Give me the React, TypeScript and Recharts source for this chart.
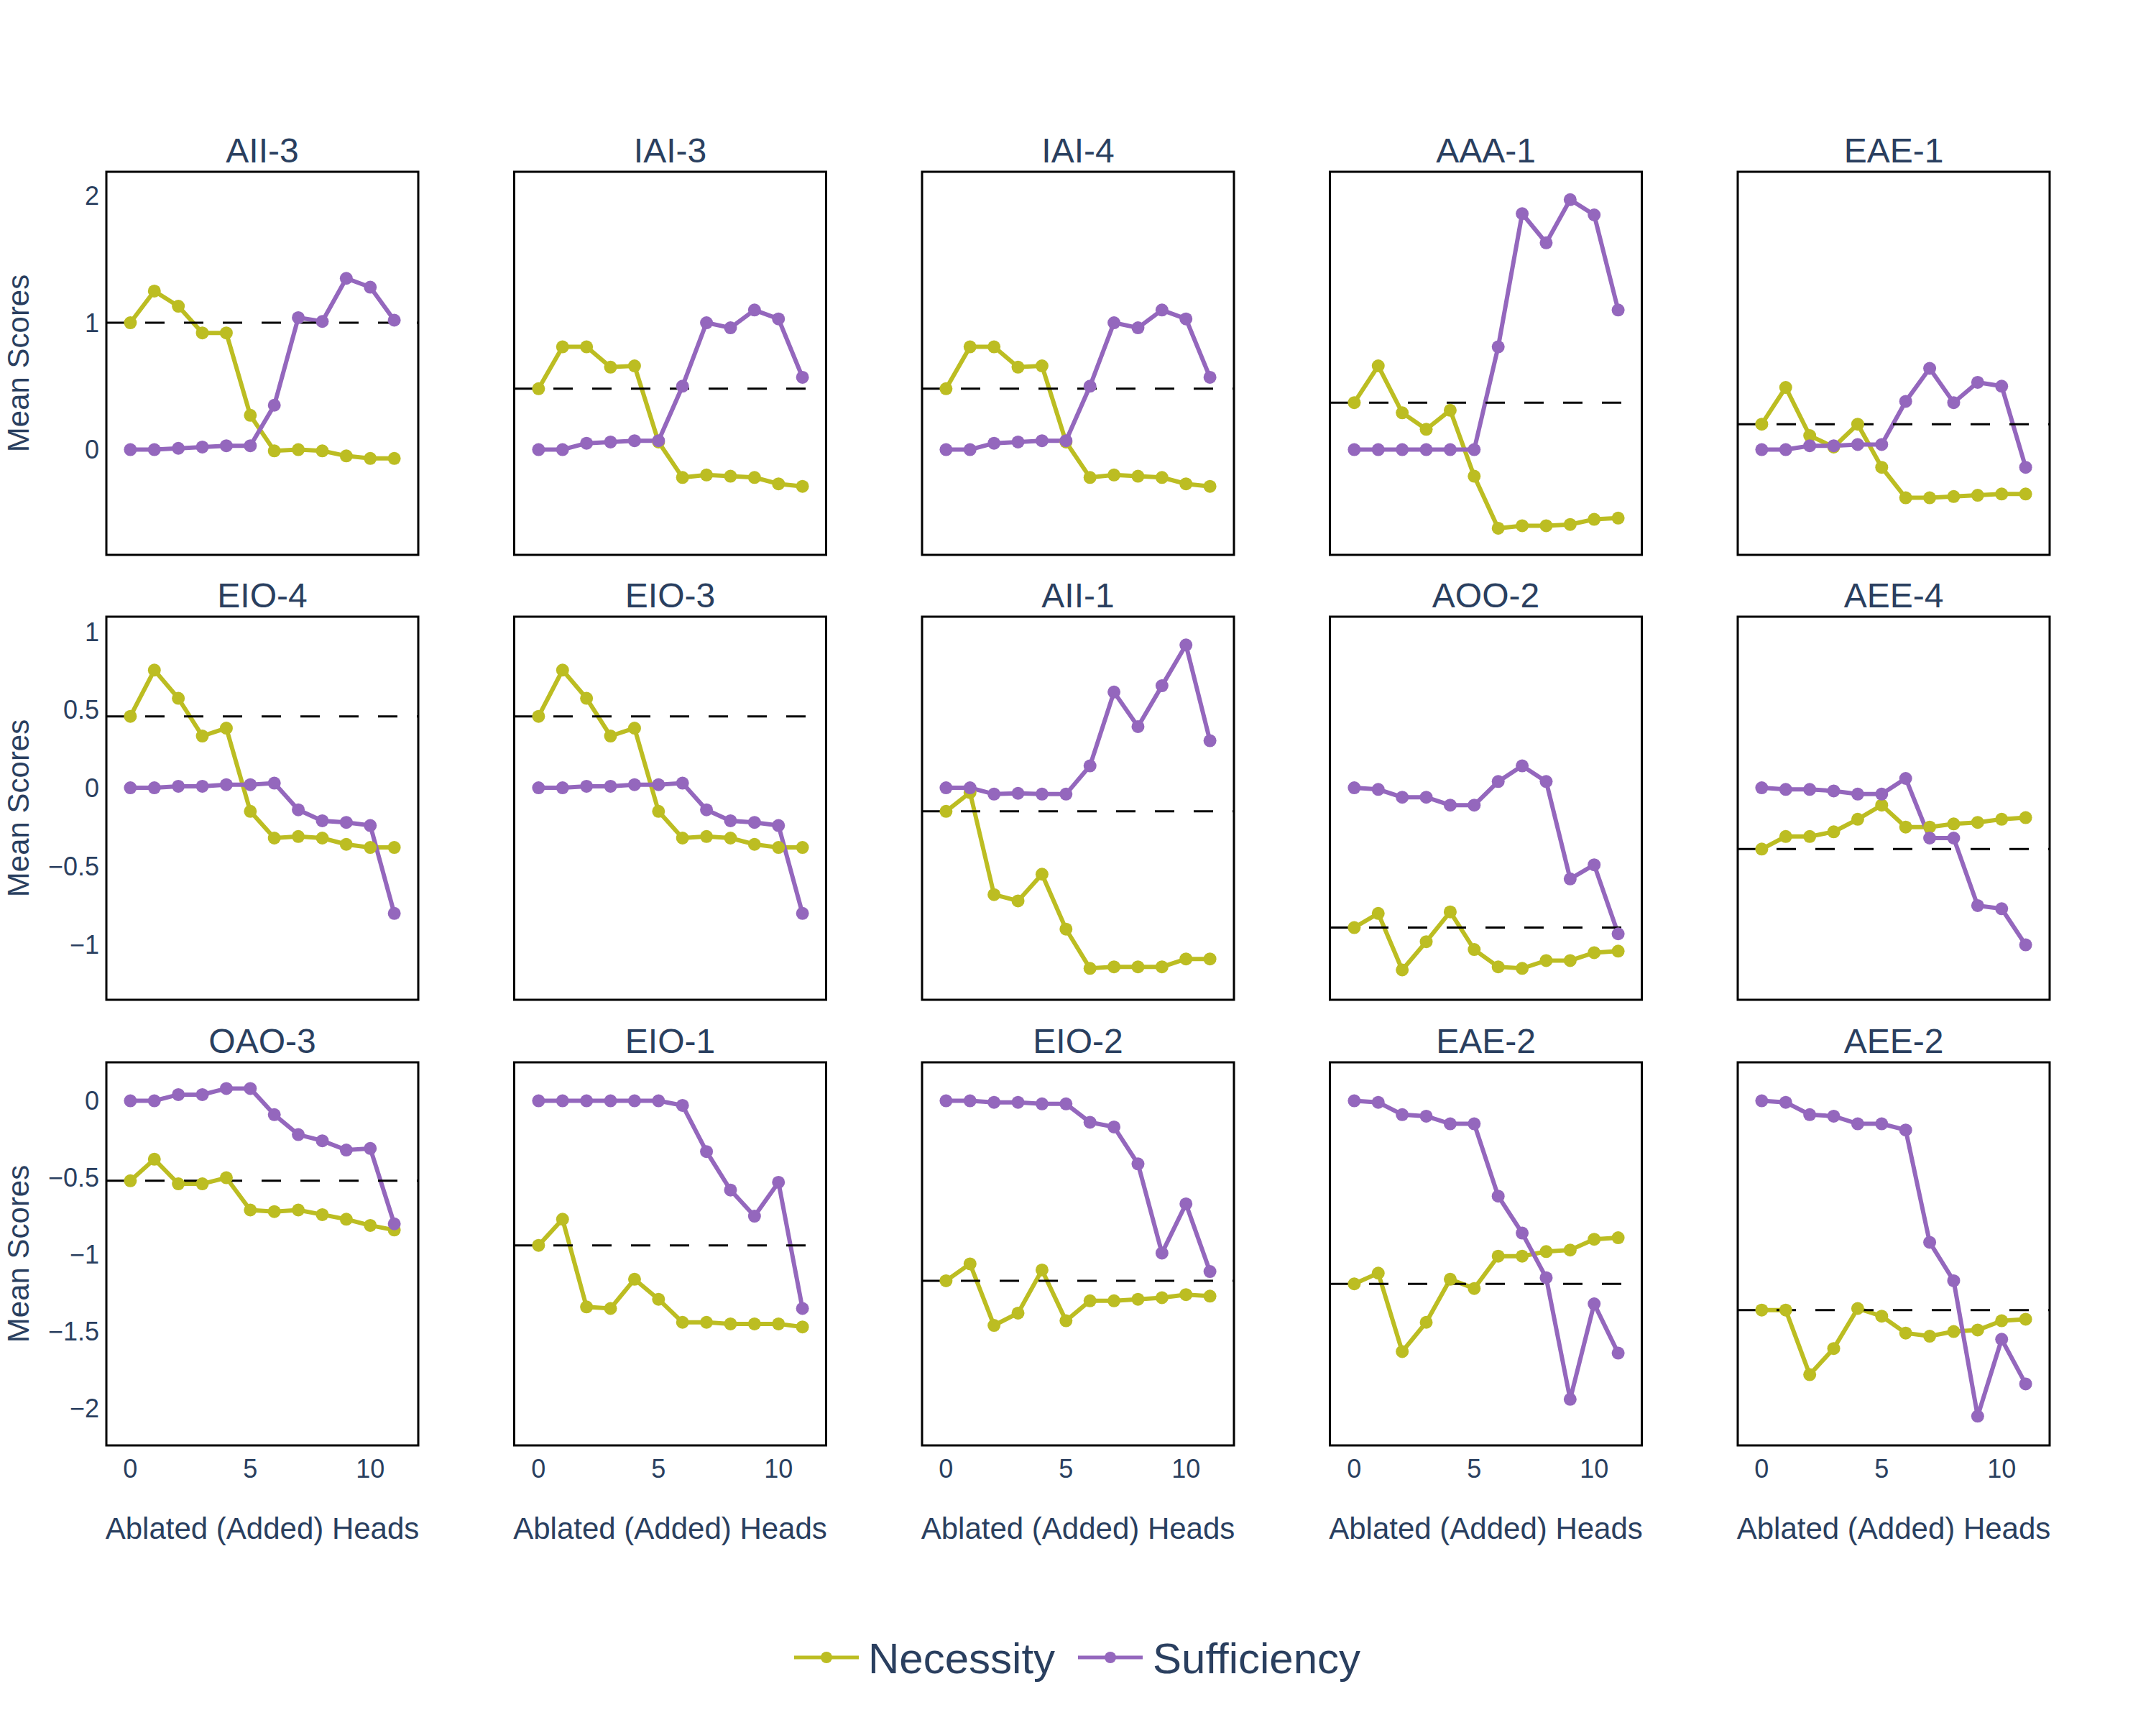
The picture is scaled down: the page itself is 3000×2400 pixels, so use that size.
import { LineChart, Line, XAxis, YAxis, ReferenceLine } from 'recharts'

const FONT = '"Liberation Sans", Arial, sans-serif'
const TEXT = '#2a3f5f'
const NEC_COLOR = '#bcbd22'
const SUF_COLOR = '#9467bd'

const heads = [0, 1, 2, 3, 4, 5, 6, 7, 8, 9, 10, 11]
const xTicks = [0, 5, 10]

const titles = [
  'AII-3', 'IAI-3', 'IAI-4', 'AAA-1', 'EAE-1',
  'EIO-4', 'EIO-3', 'AII-1', 'AOO-2', 'AEE-4',
  'OAO-3', 'EIO-1', 'EIO-2', 'EAE-2', 'AEE-2',
]
const baselines = [
  1.0, 0.48, 0.48, 0.37, 0.2,
  0.455, 0.455, -0.15, -0.89, -0.39,
  -0.52, -0.94, -1.17, -1.19, -1.36,
]

const yDomains: [number, number][] = [[-0.83, 2.19], [-1.35, 1.09], [-2.24, 0.25]]
const yTicks = [[0, 1, 2], [-1, -0.5, 0, 0.5, 1], [-2, -1.5, -1, -0.5, 0]]

// row 1
const aii3Nec = [1.0, 1.25, 1.13, 0.92, 0.92, 0.27, -0.01, 0.0, -0.01, -0.05, -0.07, -0.07]
const aii3Suf = [0.0, 0.0, 0.01, 0.02, 0.03, 0.03, 0.35, 1.04, 1.01, 1.35, 1.28, 1.02]
const iai3Nec = [0.48, 0.81, 0.81, 0.65, 0.66, 0.06, -0.22, -0.2, -0.21, -0.22, -0.27, -0.29]
const iai3Suf = [0.0, 0.0, 0.05, 0.06, 0.07, 0.07, 0.5, 1.0, 0.96, 1.1, 1.03, 0.57]
const iai4Nec = [0.48, 0.81, 0.81, 0.65, 0.66, 0.06, -0.22, -0.2, -0.21, -0.22, -0.27, -0.29]
const iai4Suf = [0.0, 0.0, 0.05, 0.06, 0.07, 0.07, 0.5, 1.0, 0.96, 1.1, 1.03, 0.57]
const aaa1Nec = [0.37, 0.66, 0.29, 0.16, 0.31, -0.21, -0.62, -0.6, -0.6, -0.59, -0.55, -0.54]
const aaa1Suf = [0.0, 0.0, 0.0, 0.0, 0.0, 0.0, 0.81, 1.86, 1.63, 1.97, 1.85, 1.1]
const eae1Nec = [0.2, 0.49, 0.11, 0.02, 0.2, -0.14, -0.38, -0.38, -0.37, -0.36, -0.35, -0.35]
const eae1Suf = [0.0, 0.0, 0.03, 0.03, 0.04, 0.04, 0.38, 0.64, 0.37, 0.53, 0.5, -0.14]

// row 2
const eio4Nec = [0.455, 0.75, 0.57, 0.33, 0.38, -0.15, -0.32, -0.31, -0.32, -0.36, -0.38, -0.38]
const eio4Suf = [0.0, 0.0, 0.01, 0.01, 0.02, 0.02, 0.03, -0.14, -0.21, -0.22, -0.24, -0.8]
const eio3Nec = [0.455, 0.75, 0.57, 0.33, 0.38, -0.15, -0.32, -0.31, -0.32, -0.36, -0.38, -0.38]
const eio3Suf = [0.0, 0.0, 0.01, 0.01, 0.02, 0.02, 0.03, -0.14, -0.21, -0.22, -0.24, -0.8]
const aii1Nec = [-0.15, -0.03, -0.68, -0.72, -0.55, -0.9, -1.15, -1.14, -1.14, -1.14, -1.09, -1.09]
const aii1Suf = [0.0, 0.0, -0.04, -0.035, -0.04, -0.04, 0.14, 0.61, 0.39, 0.65, 0.91, 0.3]
const aoo2Nec = [-0.89, -0.8, -1.16, -0.98, -0.79, -1.03, -1.14, -1.15, -1.1, -1.1, -1.05, -1.04]
const aoo2Suf = [0.0, -0.01, -0.06, -0.06, -0.11, -0.11, 0.04, 0.14, 0.04, -0.58, -0.49, -0.93]
const aee4Nec = [-0.39, -0.31, -0.31, -0.28, -0.2, -0.11, -0.25, -0.25, -0.23, -0.22, -0.2, -0.19]
const aee4Suf = [0.0, -0.01, -0.01, -0.02, -0.04, -0.04, 0.06, -0.32, -0.32, -0.75, -0.77, -1.0]

// row 3
const oao3Nec = [-0.52, -0.38, -0.54, -0.54, -0.5, -0.71, -0.72, -0.71, -0.74, -0.77, -0.81, -0.84]
const oao3Suf = [0.0, 0.0, 0.04, 0.04, 0.08, 0.08, -0.09, -0.22, -0.26, -0.32, -0.31, -0.8]
const eio1Nec = [-0.94, -0.77, -1.34, -1.35, -1.16, -1.29, -1.44, -1.44, -1.45, -1.45, -1.45, -1.47]
const eio1Suf = [0.0, 0.0, 0.0, 0.0, 0.0, 0.0, -0.03, -0.33, -0.58, -0.75, -0.53, -1.35]
const eio2Nec = [-1.17, -1.06, -1.46, -1.38, -1.1, -1.43, -1.3, -1.3, -1.29, -1.28, -1.26, -1.27]
const eio2Suf = [0.0, 0.0, -0.01, -0.01, -0.02, -0.02, -0.14, -0.17, -0.41, -0.99, -0.67, -1.11]
const eae2Nec = [-1.19, -1.12, -1.63, -1.44, -1.16, -1.22, -1.01, -1.01, -0.98, -0.97, -0.9, -0.89]
const eae2Suf = [0.0, -0.01, -0.09, -0.1, -0.15, -0.15, -0.62, -0.86, -1.15, -1.94, -1.32, -1.64]
const aee2Nec = [-1.36, -1.36, -1.78, -1.61, -1.35, -1.4, -1.51, -1.53, -1.5, -1.49, -1.43, -1.42]
const aee2Suf = [0.0, -0.01, -0.09, -0.1, -0.15, -0.15, -0.19, -0.92, -1.17, -2.05, -1.55, -1.84]

const necessity = [
  aii3Nec, iai3Nec, iai4Nec, aaa1Nec, eae1Nec,
  eio4Nec, eio3Nec, aii1Nec, aoo2Nec, aee4Nec,
  oao3Nec, eio1Nec, eio2Nec, eae2Nec, aee2Nec,
]
const sufficiency = [
  aii3Suf, iai3Suf, iai4Suf, aaa1Suf, eae1Suf,
  eio4Suf, eio3Suf, aii1Suf, aoo2Suf, aee4Suf,
  oao3Suf, eio1Suf, eio2Suf, eae2Suf, aee2Suf,
]

// layout (px)
const BOX_W = 434
const BOX_H = 533
const Y_AXIS_W = 148
const X_AXIS_H = 80
const colLeft = (c: number) => 148 + c * 567.5
const rowTops = [239, 858, 1478]

const fmtY = (v: number) => (v < 0 ? '\u2212' + Math.abs(v) : String(v))

function Panel({ idx }: { idx: number }) {
  const r = Math.floor(idx / 5)
  const c = idx % 5
  const showY = c === 0
  const showX = r === 2
  const yW = showY ? Y_AXIS_W : 0
  const xH = showX ? X_AXIS_H : 0
  const data = heads.map((h, i) => ({ h, nec: necessity[idx][i], suf: sufficiency[idx][i] }))
  const base = baselines[idx]

  return (
    <div style={{ position: 'absolute', left: colLeft(c) - yW, top: rowTops[r] }}>
      <LineChart
        width={BOX_W + yW}
        height={BOX_H + xH}
        data={data}
        margin={{ top: 0, right: 0, bottom: 0, left: 0 }}
      >
        <XAxis
          dataKey="h"
          type="number"
          domain={[-1, 12]}
          ticks={xTicks}
          allowDataOverflow
          hide={!showX}
          height={X_AXIS_H}
          tick={{ fill: TEXT, fontSize: 36, fontFamily: FONT }}
          tickLine={false}
          axisLine={false}
          tickSize={0}
          tickMargin={19}
        />
        <YAxis
          type="number"
          domain={yDomains[r]}
          ticks={yTicks[r]}
          allowDataOverflow
          hide={!showY}
          width={Y_AXIS_W}
          tick={{ fill: TEXT, fontSize: 36, fontFamily: FONT }}
          tickFormatter={fmtY}
          tickLine={false}
          axisLine={false}
          tickSize={0}
          tickMargin={10}
        />
        <Line
          type="linear"
          dataKey="nec"
          stroke={NEC_COLOR}
          strokeWidth={6}
          dot={{ r: 9, fill: NEC_COLOR, stroke: NEC_COLOR, strokeWidth: 0 }}
          activeDot={false}
          isAnimationActive={false}
        />
        <Line
          type="linear"
          dataKey="suf"
          stroke={SUF_COLOR}
          strokeWidth={6}
          dot={{ r: 9, fill: SUF_COLOR, stroke: SUF_COLOR, strokeWidth: 0 }}
          activeDot={false}
          isAnimationActive={false}
        />
        <ReferenceLine
          segment={[{ x: -1, y: base }, { x: 12, y: base }]}
          stroke="#000"
          strokeWidth={3}
          strokeDasharray="27 27"
        />
      </LineChart>
    </div>
  )
}

function LegendIcon({ x, color }: { x: number; color: string }) {
  return (
    <g>
      <line x1={x} y1={2306} x2={x + 90} y2={2306} stroke={color} strokeWidth={5} />
      <circle cx={x + 45} cy={2306} r={8} fill={color} />
    </g>
  )
}

export default function App() {
  return (
    <div
      style={{
        position: 'absolute',
        left: 0,
        top: 0,
        width: 3000,
        height: 2400,
        background: '#fff',
        fontFamily: FONT,
        overflow: 'hidden',
      }}
    >
      {titles.map((_, i) => (
        <Panel key={i} idx={i} />
      ))}
      <svg
        width={3000}
        height={2400}
        style={{ position: 'absolute', left: 0, top: 0, pointerEvents: 'none' }}
        fontFamily={FONT}
      >
        {titles.map((t, i) => {
          const r = Math.floor(i / 5)
          const c = i % 5
          return (
            <g key={t + i}>
              <rect
                x={colLeft(c)}
                y={rowTops[r]}
                width={BOX_W}
                height={BOX_H}
                fill="none"
                stroke="#000"
                strokeWidth={3}
              />
              <text
                x={colLeft(c) + BOX_W / 2}
                y={rowTops[r] - 13}
                textAnchor="middle"
                fontSize={48}
                fill={TEXT}
              >
                {t}
              </text>
            </g>
          )
        })}
        {rowTops.map((top) => (
          <text
            key={top}
            transform={`translate(40, ${top + BOX_H / 2}) rotate(-90)`}
            textAnchor="middle"
            fontSize={42}
            fill={TEXT}
          >
            Mean Scores
          </text>
        ))}
        {[0, 1, 2, 3, 4].map((c) => (
          <text
            key={c}
            x={colLeft(c) + BOX_W / 2}
            y={2141}
            textAnchor="middle"
            fontSize={42}
            fill={TEXT}
          >
            Ablated (Added) Heads
          </text>
        ))}
        <LegendIcon x={1105} color={NEC_COLOR} />
        <text x={1208} y={2328} fontSize={60} fill={TEXT}>
          Necessity
        </text>
        <LegendIcon x={1500} color={SUF_COLOR} />
        <text x={1604} y={2328} fontSize={60} fill={TEXT}>
          Sufficiency
        </text>
      </svg>
    </div>
  )
}
